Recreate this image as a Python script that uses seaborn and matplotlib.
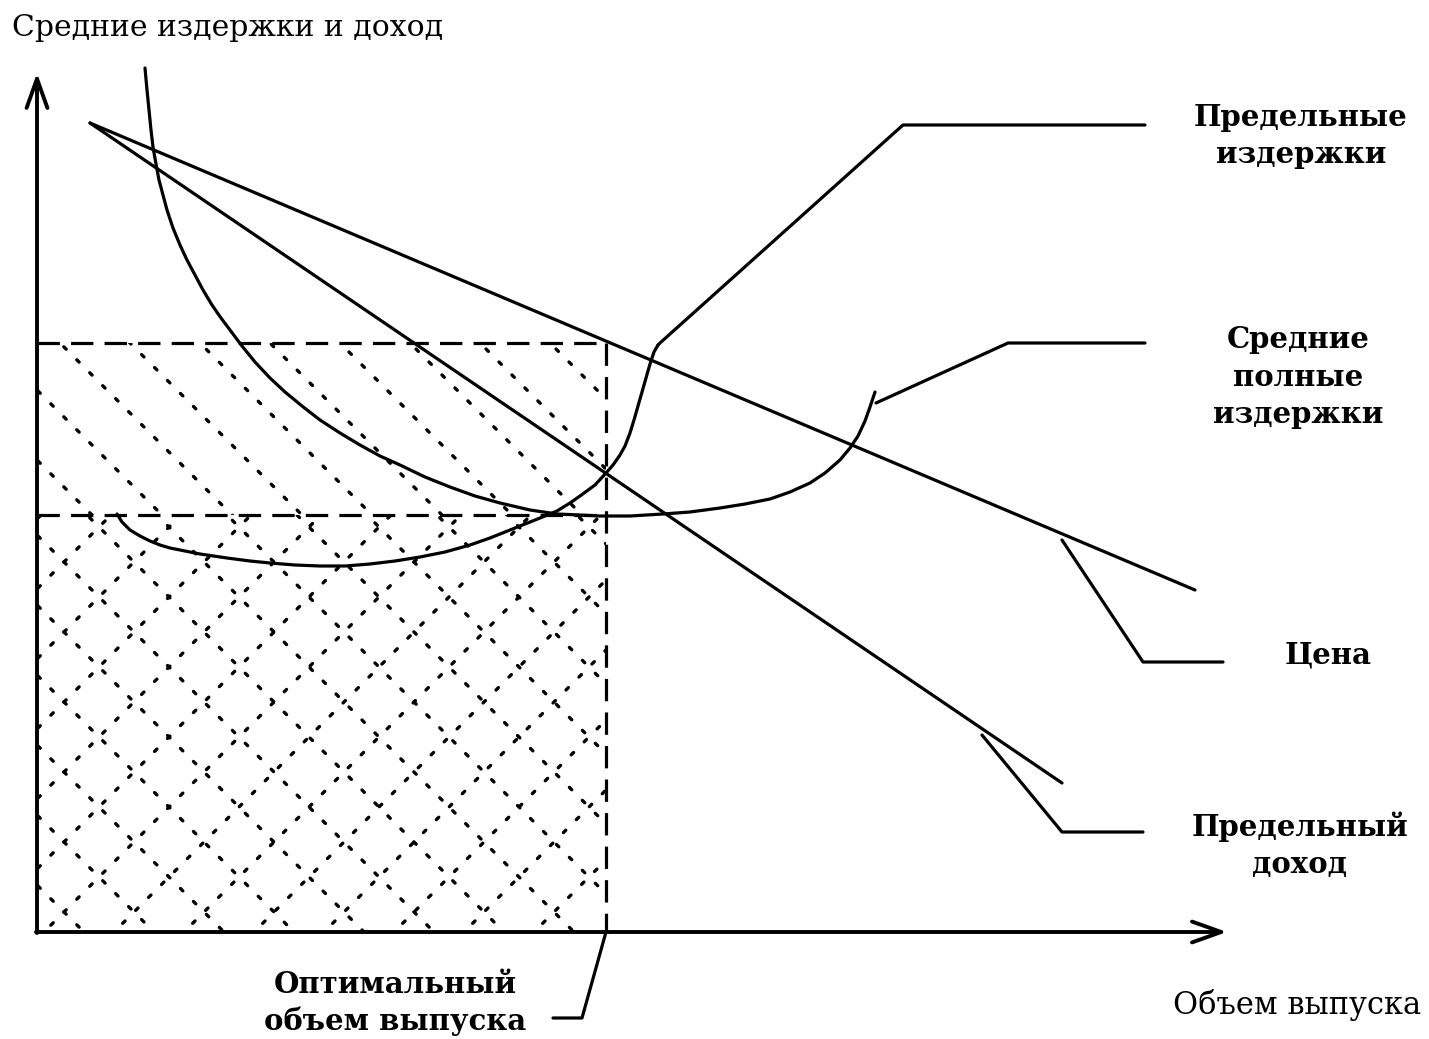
import numpy as np
import pandas as pd
import matplotlib
matplotlib.use("Agg")
import matplotlib.pyplot as plt
import seaborn as sns
from matplotlib.patches import Rectangle

# ---- data (chart units: Q to the right, P upward) ----
price_q = [53, 1158]
price_p = [809, 342]

mr_q = [53, 1025]
mr_p = [809, 149]

atc_q = [108, 110, 112, 114, 116, 119, 122, 126, 130, 136, 143, 150, 158, 166,
         175, 184, 193, 205, 218, 233, 248, 265, 283, 303, 323, 343, 363, 388,
         413, 438, 463, 493, 520, 543, 563, 593, 626, 653, 683, 708, 733, 753,
         773, 788, 803, 813, 821, 828, 833, 838]
atc_p = [864, 842, 822, 802, 785, 768, 752, 737, 722, 704, 687, 672, 657, 642,
         627, 614, 602, 586, 570, 554, 540, 526, 512, 499, 487, 476, 467, 455,
         445, 436, 429, 422, 418, 417, 416, 416, 418, 420, 424, 428, 433, 440,
         449, 459, 472, 484, 496, 511, 525, 540]

mc_q = [80, 85, 93, 103, 113, 123, 133, 148, 163, 190, 213, 233, 258, 283,
        308, 333, 358, 383, 408, 433, 453, 473, 488, 503, 520, 533, 543, 558,
        569, 576, 583, 588, 593, 597, 601, 605, 609, 613, 617, 621]
mc_p = [418, 410, 402, 396, 391, 387, 384, 381, 378, 374, 371, 369, 367, 366,
        366, 368, 371, 375, 380, 387, 394, 402, 408, 414, 421, 429, 436, 447,
        459, 467, 477, 486, 499, 512, 526, 540, 554, 568, 580, 587]

q_opt = 569      # optimal output
p_opt = 589      # price at optimal output
atc_opt = 417    # average total cost at optimal output

axis_q_max = 1190
axis_p_max = 859

# leader lines to labels
lead_mc_q = [621, 623, 866, 1108]
lead_mc_p = [587, 589, 807, 807]
lead_atc_q = [839, 971, 1108]
lead_atc_p = [529, 589, 589]
lead_price_q = [1025, 1106, 1186]
lead_price_p = [392, 270, 270]
lead_mr_q = [945, 1025, 1106]
lead_mr_p = [197, 100, 100]
lead_opt_q = [569, 545, 516]
lead_opt_p = [0, -86, -86]

# ---- figure ----
sns.set_theme(style="white")
plt.rcParams["font.family"] = ["DejaVu Serif", "DejaVu Sans"]
plt.rcParams["text.color"] = "black"

fig = plt.figure(figsize=(14.29, 10.39), dpi=100)
ax = fig.add_axes([0, 0, 1, 1])
ax.set_xlim(-37, 1392)
ax.set_ylim(-107, 932)
ax.axis("off")

LW = 2.3
K = "black"

# hatching (dotted diagonals) clipped to the two rectangles
upper = Rectangle((0, atc_opt), q_opt, p_opt - atc_opt, fill=False, lw=0, transform=ax.transData)
lower = Rectangle((0, 0), q_opt, atc_opt, fill=False, lw=0, transform=ax.transData)
ax.add_patch(upper)
ax.add_patch(lower)
dot = dict(color=K, lw=2.4, linestyle=(0, (1, 4.5)), dash_capstyle="round", zorder=1)
qq = np.array([-1200, 1800])
for b in np.arange(612 - 70 * 12, 612 + 70 * 12, 70):
    ln, = ax.plot(qq, -qq + b, **dot)
    ln.set_clip_path(upper)
for b in np.arange(327 - 70 * 14, 327 + 70 * 14, 70):
    ln, = ax.plot(qq, -qq + b, **dot)
    ln.set_clip_path(lower)
for b in np.arange(273 - 70 * 14, 273 + 70 * 14, 70):
    ln, = ax.plot(qq, qq + b, **dot)
    ln.set_clip_path(lower)

# dashed rectangle edges
dash = dict(color=K, lw=LW, linestyle=(0, (7, 3.5)), zorder=3)
ax.plot([0, q_opt], [p_opt, p_opt], **dash)
ax.plot([0, q_opt], [atc_opt, atc_opt], **dash)
ax.plot([q_opt, q_opt], [p_opt, 0], **dash)

# curves
curves = [(price_q, price_p), (mr_q, mr_p), (atc_q, atc_p), (mc_q, mc_p)]
for q, p in curves:
    sns.lineplot(x=q, y=p, ax=ax, color=K, lw=LW, sort=False, estimator=None, zorder=4)

# leaders
for q, p in [(lead_mc_q, lead_mc_p), (lead_atc_q, lead_atc_p),
             (lead_price_q, lead_price_p), (lead_mr_q, lead_mr_p),
             (lead_opt_q, lead_opt_p)]:
    sns.lineplot(x=q, y=p, ax=ax, color=K, lw=LW, sort=False, estimator=None, zorder=4)

# axes arrows
arr = dict(arrowstyle="->,head_length=1.4,head_width=0.5", lw=2.8, color=K,
           mutation_scale=15, shrinkA=0, shrinkB=0)
ax.annotate("", xy=(0, axis_p_max), xytext=(0, -1), arrowprops=arr, zorder=5)
ax.annotate("", xy=(axis_q_max, 0), xytext=(-1, 0), arrowprops=arr, zorder=5)

# texts
ax.text(-25, 904, "Средние издержки и доход", fontsize=21.5, ha="left", va="center", color=K)
ax.text(1260, -73, "Объем выпуска", fontsize=22, ha="center", va="center", color=K)
bold = dict(fontsize=21, fontweight="bold", ha="center", va="center", linespacing=1.35, color=K)
ax.text(1264, 796, "Предельные\nиздержки", **bold)
ax.text(1261, 555, "Средние\nполные\nиздержки", **bold)
ax.text(1291, 277, "Цена", **bold)
ax.text(1263, 87, "Предельный\nдоход", **bold)
ax.text(358, -71, "Оптимальный\nобъем выпуска", **bold)

fig.savefig("out.png", dpi=100, facecolor="white")
